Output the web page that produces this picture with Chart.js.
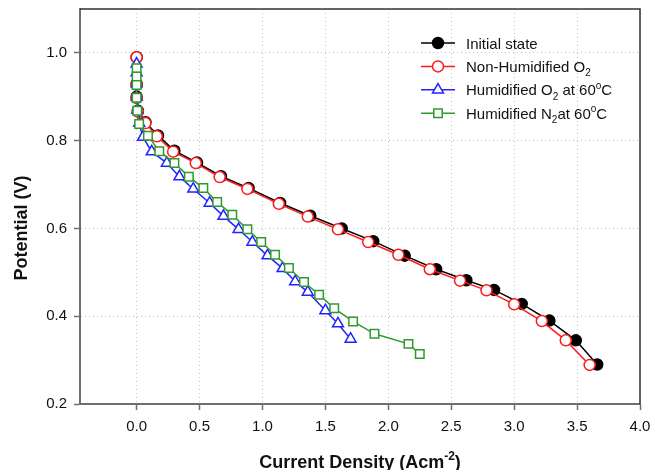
<!DOCTYPE html>
<html lang="en">
<head>
<meta charset="UTF-8">
<title>Polarization Curves</title>
<script src="https://cdn.jsdelivr.net/npm/chart.js"></script>
<style>
  html, body { margin: 0; padding: 0; background: #fff; }
  #wrap { width: 654px; height: 470px; }
</style>
</head>
<body>
<div id="wrap"><canvas id="polChart" width="654" height="470"></canvas></div>
<script>
// current density (A/cm2) vs. cell potential (V) for each run
const initialX = [0, 0, 0, 0.01, 0.07, 0.17, 0.30, 0.48, 0.67, 0.89, 1.14, 1.38, 1.63, 1.88, 2.13, 2.38, 2.62, 2.84, 3.06, 3.28, 3.49, 3.66];
const initialY = [0.99, 0.93, 0.90, 0.868, 0.842, 0.812, 0.777, 0.750, 0.719, 0.692, 0.658, 0.629, 0.600, 0.571, 0.538, 0.507, 0.482, 0.460, 0.428, 0.390, 0.345, 0.290];

const dryO2X = [0, 0, 0, 0.01, 0.07, 0.16, 0.29, 0.47, 0.66, 0.88, 1.13, 1.36, 1.60, 1.84, 2.08, 2.33, 2.57, 2.78, 3.00, 3.22, 3.41, 3.60];
const dryO2Y = [0.99, 0.927, 0.897, 0.866, 0.840, 0.810, 0.775, 0.749, 0.717, 0.690, 0.656, 0.627, 0.598, 0.569, 0.540, 0.507, 0.481, 0.459, 0.427, 0.389, 0.345, 0.289];

const humO2X = [0, 0, 0, 0, 0.005, 0.02, 0.05, 0.12, 0.24, 0.34, 0.45, 0.58, 0.69, 0.81, 0.92, 1.04, 1.16, 1.26, 1.36, 1.50, 1.60, 1.70];
const humO2Y = [0.975, 0.955, 0.93, 0.90, 0.870, 0.840, 0.808, 0.775, 0.749, 0.718, 0.690, 0.658, 0.628, 0.598, 0.569, 0.538, 0.509, 0.479, 0.455, 0.413, 0.383, 0.348];

const humN2X = [0, 0, 0, 0, 0.005, 0.02, 0.09, 0.18, 0.30, 0.415, 0.53, 0.64, 0.76, 0.88, 0.99, 1.10, 1.21, 1.33, 1.45, 1.57, 1.72, 1.89, 2.16, 2.25];
const humN2Y = [0.965, 0.946, 0.927, 0.898, 0.868, 0.838, 0.811, 0.776, 0.749, 0.718, 0.692, 0.660, 0.631, 0.598, 0.569, 0.540, 0.510, 0.478, 0.449, 0.418, 0.388, 0.360, 0.337, 0.314];

const xTicks = [0, 0.5, 1.0, 1.5, 2.0, 2.5, 3.0, 3.5, 4.0];
const yTicks = [0.2, 0.4, 0.6, 0.8, 1.0];

// legend text pieces: [text, 'sub' | 'sup' | undefined]
const legendLabels = [
  [['Initial state']],
  [['Non-Humidified O'], ['2', 'sub']],
  [['Humidified O'], ['2', 'sub'], [' at 60'], ['o', 'sup'], ['C']],
  [['Humidified N'], ['2', 'sub'], ['at 60'], ['o', 'sup'], ['C']]
];
const xTitle = [['Current Density (Acm'], ['-2', 'sup'], [')']];
const yTitle = [['Potential (V)']];

const FONT = '"Liberation Sans", Arial, sans-serif';

function toPoints(xs, ys) {
  return xs.map((x, i) => ({ x: x, y: ys[i] }));
}

function richWidth(ctx, parts, size, bold) {
  let w = 0;
  parts.forEach(([t, kind]) => {
    const s = kind ? Math.round(size * 0.68) : size;
    ctx.font = (bold ? 'bold ' : '') + s + 'px ' + FONT;
    w += ctx.measureText(t).width;
  });
  return w;
}

function drawRich(ctx, parts, x, y, size, bold) {
  parts.forEach(([t, kind]) => {
    const s = kind ? Math.round(size * 0.68) : size;
    ctx.font = (bold ? 'bold ' : '') + s + 'px ' + FONT;
    const dy = kind === 'sub' ? size * 0.3 : kind === 'sup' ? -size * 0.42 : 0;
    ctx.fillText(t, x, y + dy);
    x += ctx.measureText(t).width;
  });
}

function drawMarker(ctx, style, x, y, r, fill, stroke) {
  ctx.beginPath();
  if (style === 'circle') {
    ctx.arc(x, y, r, 0, Math.PI * 2);
  } else if (style === 'triangle') {
    let a = 0;
    ctx.moveTo(x + Math.sin(a) * r, y - Math.cos(a) * r);
    a += Math.PI * 2 / 3;
    ctx.lineTo(x + Math.sin(a) * r, y - Math.cos(a) * r);
    a += Math.PI * 2 / 3;
    ctx.lineTo(x + Math.sin(a) * r, y - Math.cos(a) * r);
    ctx.closePath();
  } else {
    const h = r / Math.SQRT2;
    ctx.rect(x - h, y - h, h * 2, h * 2);
  }
  ctx.fillStyle = fill;
  ctx.fill();
  ctx.lineWidth = 1.5;
  ctx.strokeStyle = stroke;
  ctx.stroke();
}

// frame, legend and axis titles
const decorations = {
  id: 'decorations',
  afterDraw(chart) {
    const ctx = chart.ctx;
    const a = chart.chartArea;
    ctx.save();

    ctx.strokeStyle = '#333';
    ctx.lineWidth = 1.5;
    ctx.beginPath();
    ctx.moveTo(a.left, a.top);
    ctx.lineTo(a.right, a.top);
    ctx.lineTo(a.right, a.bottom);
    ctx.stroke();

    ctx.textBaseline = 'alphabetic';
    ctx.fillStyle = '#111';
    const lx = a.right - 219;
    chart.data.datasets.forEach((ds, i) => {
      const y = a.top + 34 + i * 23.4;
      ctx.strokeStyle = ds.borderColor;
      ctx.lineWidth = 1.5;
      ctx.beginPath();
      ctx.moveTo(lx, y);
      ctx.lineTo(lx + 34, y);
      ctx.stroke();
      drawMarker(ctx, ds.pointStyle, lx + 17, y, ds.pointRadius, ds.pointBackgroundColor, ds.borderColor);
      ctx.fillStyle = '#111';
      drawRich(ctx, legendLabels[i], lx + 45, y + 5.5, 15, false);
    });

    // x title
    const size = 18;
    const w = richWidth(ctx, xTitle, size, true);
    drawRich(ctx, xTitle, (a.left + a.right) / 2 - w / 2, 468, size, true);

    // y title, rotated
    ctx.translate(27, 228);
    ctx.rotate(-Math.PI / 2);
    const wy = richWidth(ctx, yTitle, size, true);
    drawRich(ctx, yTitle, -wy / 2, 0, size, true);

    ctx.restore();
  }
};

const axisColor = '#6e6e6e';

// keep the plot box fixed regardless of tick label overhang
function noOverhang(scale) {
  scale.paddingLeft = 0;
  scale.paddingRight = 0;
  scale.paddingTop = 0;
  scale.paddingBottom = 0;
}

new Chart(document.getElementById('polChart'), {
  type: 'scatter',
  data: {
    datasets: [
      {
        data: toPoints(initialX, initialY),
        borderColor: '#000', pointBackgroundColor: '#000', pointBorderColor: '#000',
        pointStyle: 'circle', pointRadius: 5.5, order: 4
      },
      {
        data: toPoints(dryO2X, dryO2Y),
        borderColor: '#ff1a1a', pointBackgroundColor: '#fff', pointBorderColor: '#ff1a1a',
        pointStyle: 'circle', pointRadius: 5.5, order: 3
      },
      {
        data: toPoints(humO2X, humO2Y),
        borderColor: '#2323ff', pointBackgroundColor: '#fff', pointBorderColor: '#2323ff',
        pointStyle: 'triangle', pointRadius: 6.3, order: 2
      },
      {
        data: toPoints(humN2X, humN2Y),
        borderColor: '#2e9a2e', pointBackgroundColor: '#fff', pointBorderColor: '#2e9a2e',
        pointStyle: 'rect', pointRadius: 6, order: 1
      }
    ].map(ds => Object.assign({
      showLine: true, borderWidth: 1.5, pointBorderWidth: 1.5, tension: 0, clip: false
    }, ds))
  },
  options: {
    responsive: false,
    animation: false,
    events: [],
    layout: { padding: { top: 9, right: 14, left: 0, bottom: 0 } },
    plugins: { legend: { display: false }, tooltip: { enabled: false } },
    scales: {
      x: {
        type: 'linear', min: -0.45, max: 4.0,
        afterBuildTicks(scale) { scale.ticks = xTicks.map(v => ({ value: v })); },
        afterFit(scale) { scale.height = 66; noOverhang(scale); },
        ticks: {
          autoSkip: false, maxRotation: 0, padding: 8, color: '#111',
          font: { family: FONT, size: 15 },
          callback: v => v.toFixed(1)
        },
        grid: { color: '#c4c4c4', tickColor: axisColor, tickLength: 6, tickWidth: 1.5, tickBorderDash: [] },
        border: { color: axisColor, width: 2, dash: [1, 3] }
      },
      y: {
        type: 'linear', min: 0.2, max: 1.1,
        afterBuildTicks(scale) { scale.ticks = yTicks.map(v => ({ value: v })); },
        afterFit(scale) { scale.width = 80; noOverhang(scale); },
        ticks: {
          autoSkip: false, padding: 7, color: '#111',
          font: { family: FONT, size: 15 },
          callback: v => v.toFixed(1)
        },
        grid: { color: '#c4c4c4', tickColor: axisColor, tickLength: 6, tickWidth: 1.5, tickBorderDash: [] },
        border: { color: axisColor, width: 2, dash: [1, 3] }
      }
    }
  },
  plugins: [decorations]
});
</script>
</body>
</html>
